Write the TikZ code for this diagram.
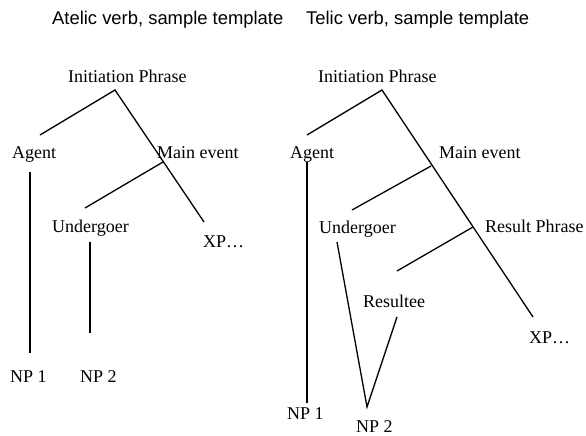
\documentclass[tikz,border=0pt]{standalone}
\usepackage{fontspec}
\setmainfont{Liberation Serif}
\newfontfamily\headfont{Liberation Sans}
\begin{document}
\begin{tikzpicture}[x=1pt,y=-1pt,
  lbl/.style={anchor=base west,inner sep=0pt,font=\fontsize{18}{20}\selectfont},
  head/.style={anchor=base west,inner sep=0pt,font=\headfont\fontsize{18.4}{20}\selectfont},
  branch/.style={line width=1.3pt}]
\useasboundingbox (0,0) rectangle (586,436);

% headings
\node[head] (hA) at (52,25) {Atelic verb, sample template};
\node[head] (hT) at (306,25) {Telic verb, sample template};

% ---- atelic tree ----
\node[lbl] (aIP)  at (68,82)   {Initiation Phrase};
\node[lbl] (aAg)  at (12,158)  {Agent};
\node[lbl] (aME)  at (157,158) {Main event};
\node[lbl] (aUn)  at (52,232)  {Undergoer};
\node[lbl] (aXP)  at (203,247) {XP…};
\node[lbl] (aNP1) at (10,382)  {NP 1};
\node[lbl] (aNP2) at (80,382)  {NP 2};

\coordinate (aTop)    at (115,90);
\coordinate (aAgUp)   at (40,135);
\coordinate (aXPUp)   at (204,222);
\coordinate (aMEdn)   at (163,162);
\coordinate (aUnUp)   at (85,208);
\coordinate (aAgDn)   at (30,172);
\coordinate (aNP1Up)  at (30,353);
\coordinate (aUnDn)   at (90,242);
\coordinate (aNP2Up)  at (90,333);

\draw[branch] (aAgUp) -- (aTop) -- (aXPUp);
\draw[branch] (aMEdn) -- (aUnUp);
\draw[branch] (aAgDn) -- (aNP1Up);
\draw[branch] (aUnDn) -- (aNP2Up);

% ---- telic tree ----
\node[lbl] (tIP)  at (318,82)  {Initiation Phrase};
\node[lbl] (tAg)  at (290,158) {Agent};
\node[lbl] (tME)  at (439,158) {Main event};
\node[lbl] (tUn)  at (319,233) {Undergoer};
\node[lbl] (tRP)  at (485,232) {Result Phrase};
\node[lbl] (tRe)  at (363,307) {Resultee};
\node[lbl] (tXP)  at (529,343) {XP…};
\node[lbl] (tNP1) at (287,419) {NP 1};
\node[lbl] (tNP2) at (356,432) {NP 2};

\coordinate (tTop)   at (382,90);
\coordinate (tAgUp)  at (307,135);
\coordinate (tXPUp)  at (533,317);
\coordinate (tMEdn)  at (431,166);
\coordinate (tUnUp)  at (352,210);
\coordinate (tRPdn)  at (473,227);
\coordinate (tReUp)  at (397,271);
\coordinate (tAgDn)  at (307,162);
\coordinate (tNP1Up) at (307,403);
\coordinate (tUnDn)  at (337,242);
\coordinate (tReDn)  at (397,317);
\coordinate (tNP2Up) at (367,407);

\draw[branch] (tAgUp) -- (tTop) -- (tXPUp);
\draw[branch] (tMEdn) -- (tUnUp);
\draw[branch] (tRPdn) -- (tReUp);
\draw[branch] (tAgDn) -- (tNP1Up);
\draw[branch] (tUnDn) -- (tNP2Up) -- (tReDn);
\end{tikzpicture}
\end{document}
